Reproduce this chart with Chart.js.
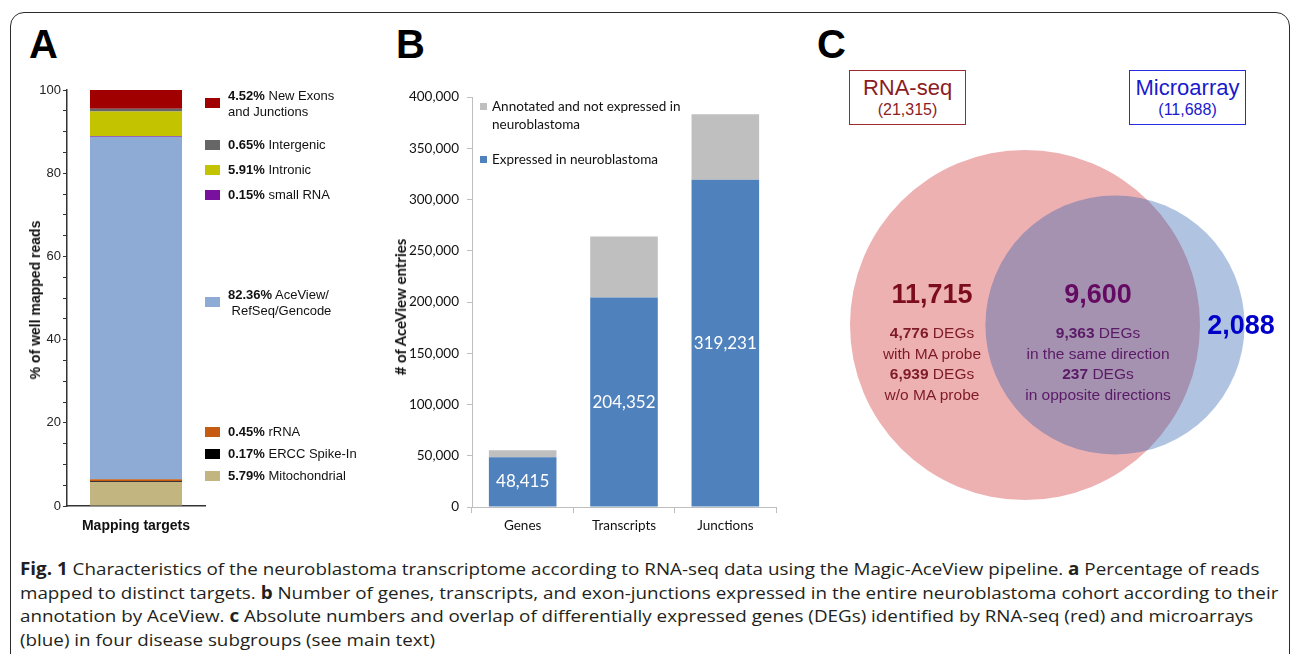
<!DOCTYPE html>
<html>
<head>
<meta charset="utf-8">
<script src="https://cdn.jsdelivr.net/npm/chart.js@4.4.1/dist/chart.umd.min.js"></script>
<style>
  body { margin: 0; width: 1292px; height: 654px; overflow: hidden; background: #fff; position: relative;
         font-family: "Liberation Sans", Arial, sans-serif; }
  .abs { position: absolute; }
  #frame { left: 10px; top: 12px; width: 1280px; height: 720px; border: 1.5px solid #2b2b2b;
           border-radius: 14px; box-sizing: border-box; }
  .panel { font-weight: bold; font-size: 40px; line-height: 40px; color: #000; }
  .lab { position: absolute; transform: translate(-50%, -50%); white-space: nowrap; text-align: center; }
  .box { position: absolute; box-sizing: border-box; text-align: center; }
  #caption { left: 20px; top: 557px; font-family: "Open Sans", sans-serif; font-size: 17px; line-height: 23.5px;
             color: #231f20; white-space: nowrap; transform-origin: 0 0; }
  canvas { position: absolute; }
</style>
</head>
<body>
<div id="frame" class="abs"></div>
<div class="abs panel" style="left:29px;top:24px">A</div>
<div class="abs panel" style="left:396px;top:24px">B</div>
<div class="abs panel" style="left:817px;top:24px">C</div>

<canvas id="chartA" width="400" height="540" style="left:0;top:0"></canvas>
<canvas id="chartB" width="420" height="480" style="left:380px;top:60px"></canvas>
<canvas id="chartC" width="492" height="400" style="left:800px;top:130px"></canvas>

<div id="overlay"></div>

<div id="caption" class="abs">
  <div><b>Fig. 1</b> Characteristics of the neuroblastoma transcriptome according to RNA-seq data using the Magic-AceView pipeline. <b>a</b> Percentage of reads</div>
  <div>mapped to distinct targets. <b>b</b> Number of genes, transcripts, and exon-junctions expressed in the entire neuroblastoma cohort according to their</div>
  <div>annotation by AceView. <b>c</b> Absolute numbers and overlap of differentially expressed genes (DEGs) identified by RNA-seq (red) and microarrays</div>
  <div>(blue) in four disease subgroups (see main text)</div>
</div>

<script>
// Panel A: mapping targets (bottom to top)
const mapTargets = ['Mitochondrial', 'ERCC Spike-In', 'rRNA', 'AceView/| RefSeq/Gencode', 'small RNA', 'Intronic', 'Intergenic', 'New Exons|and Junctions'];
const mapPercent = [5.79, 0.17, 0.45, 82.36, 0.15, 5.91, 0.65, 4.52];
const mapColors = ['#c3b57f', '#000000', '#c55a11', '#8dabd5', '#7a119e', '#c4c300', '#666666', '#a10000'];
const mapLegendY = [476, 454, 432, 295, 195, 170, 145, 96];

// Panel B: AceView entries
const entryTypes = ['Genes', 'Transcripts', 'Junctions'];
const expressed = [48415, 204352, 319231];
const notExpressed = [6900, 59500, 63900];
const bTicks = [0, 50000, 100000, 150000, 200000, 250000, 300000, 350000, 400000];

// Panel C: DEG counts
const rnaSeqTotal = 21315;
const microarrayTotal = 11688;
const overlapTotal = 9600;
const rnaOnlySplit = [4776, 6939];
const overlapSplit = [9363, 237];

const fmt = v => v.toLocaleString('en-US');
const overlay = document.getElementById('overlay');
function addDiv(cls, html, css) {
  const d = document.createElement('div');
  d.className = cls;
  d.innerHTML = html;
  d.style.cssText = css;
  overlay.appendChild(d);
  return d;
}

// axis titles
addDiv('lab', '% of well mapped reads', 'left:35px;top:300px;transform:translate(-50%,-50%) rotate(-90deg);font-weight:bold;font-size:14px;color:#111');
addDiv('lab', '# of AceView entries', 'left:400px;top:307px;transform:translate(-50%,-50%) rotate(-90deg);font-family:Lato;font-weight:bold;font-size:15px;color:#111');

// legend A
mapTargets.forEach((t, i) => {
  const lines = t.split('|');
  const y = mapLegendY[i];
  const sq = lines.length > 1 ? y + 7 : y;
  addDiv('abs', '', `left:205px;top:${sq - 5}px;width:15px;height:10px;background:${mapColors[i]}`);
  const html = '<b>' + mapPercent[i].toFixed(2) + '%</b> ' + lines.join('<br>');
  addDiv('abs', html, `left:228px;top:${y - 8}px;font-size:13px;line-height:15.5px;color:#111;white-space:pre`);
});

// legend B
addDiv('abs', '', 'left:480px;top:103px;width:7px;height:7px;background:#bfbfbf');
addDiv('abs', 'Annotated and not expressed in<br>neuroblastoma', 'left:492px;top:97px;font-family:Lato;font-size:13.5px;line-height:18px;color:#111');
addDiv('abs', '', 'left:480px;top:156px;width:7px;height:7px;background:#4f81bd');
addDiv('abs', 'Expressed in neuroblastoma', 'left:492px;top:150px;font-family:Lato;font-size:13.5px;line-height:18px;color:#111');

// Panel C labels
addDiv('box', '<div style="font-size:22px;line-height:24px;margin-top:5px">RNA-seq</div><div style="font-size:16px;line-height:20px">(' + fmt(rnaSeqTotal) + ')</div>',
  'left:849px;top:70px;width:117px;height:55px;border:1.5px solid #9e2a30;color:#8b1c24');
addDiv('box', '<div style="font-size:22px;line-height:24px;margin-top:5px">Microarray</div><div style="font-size:16px;line-height:20px">(' + fmt(microarrayTotal) + ')</div>',
  'left:1129px;top:70px;width:117px;height:55px;border:1.5px solid #2a2ae0;color:#1a1acc');

const big = 'font-weight:bold;font-size:27px;';
const small = 'font-size:15.5px;line-height:20.5px;';
addDiv('lab', fmt(rnaSeqTotal - overlapTotal), `left:932px;top:294px;${big}color:#7b0d1e`);
addDiv('lab', `<b>${fmt(rnaOnlySplit[0])}</b> DEGs<br>with MA probe<br><b>${fmt(rnaOnlySplit[1])}</b> DEGs<br>w/o MA probe`,
  `left:932px;top:364px;${small}color:#7d1a28`);
addDiv('lab', fmt(overlapTotal), `left:1098px;top:294px;${big}color:#650a62`);
addDiv('lab', `<b>${fmt(overlapSplit[0])}</b> DEGs<br>in the same direction<br><b>${fmt(overlapSplit[1])}</b> DEGs<br>in opposite directions`,
  `left:1098px;top:364px;${small}color:#5a1a66`);
addDiv('lab', fmt(microarrayTotal - overlapTotal), `left:1241px;top:325px;${big}color:#0000c8`);

const barLabels = {
  id: 'barLabels',
  afterDatasetsDraw(chart) {
    const meta = chart.getDatasetMeta(0);
    const ctx = chart.ctx;
    ctx.save();
    ctx.fillStyle = '#fff';
    ctx.font = '17px Lato';
    ctx.textAlign = 'center';
    ctx.textBaseline = 'middle';
    meta.data.forEach((bar, i) => {
      ctx.fillText(fmt(expressed[i]), bar.x, (bar.y + bar.base) / 2);
    });
    ctx.restore();
  }
};

function draw() {
  Chart.defaults.font.family = '"Liberation Sans", Arial, sans-serif';

  // A
  new Chart(document.getElementById('chartA'), {
    type: 'bar',
    data: {
      labels: ['Mapping targets'],
      datasets: mapTargets.map((t, i) => ({
        label: t, data: [mapPercent[i]], backgroundColor: mapColors[i],
        barPercentage: 0.667, categoryPercentage: 1
      }))
    },
    options: {
      responsive: false, animation: false,
      layout: { padding: { left: 27, top: 90, right: 195, bottom: 0 } },
      plugins: { legend: { display: false }, tooltip: { enabled: false } },
      scales: {
        x: {
          stacked: true,
          grid: { display: false },
          border: { color: '#333', width: 1.5 },
          ticks: { color: '#111', font: { size: 14, weight: 'bold' }, padding: 4 },
          afterFit: s => { s.height = 34; }
        },
        y: {
          stacked: true, min: 0, max: 100,
          border: { color: '#333', width: 1.5 },
          grid: { drawOnChartArea: false, color: '#333', tickLength: 4 },
          ticks: { stepSize: 5, autoSkip: false, padding: 2, color: '#222', font: { size: 13 },
                   callback: v => v % 20 === 0 ? v : '' },
          afterFit: s => { s.width = 40; }
        }
      }
    }
  });

  // B
  new Chart(document.getElementById('chartB'), {
    type: 'bar',
    data: {
      labels: entryTypes,
      datasets: [
        { label: 'Expressed in neuroblastoma', data: expressed, backgroundColor: '#4f81bd',
          barPercentage: 0.667, categoryPercentage: 1 },
        { label: 'Annotated and not expressed in neuroblastoma', data: notExpressed, backgroundColor: '#bfbfbf',
          barPercentage: 0.667, categoryPercentage: 1 }
      ]
    },
    options: {
      responsive: false, animation: false,
      layout: { padding: { left: 22, top: 37, right: 24, bottom: 3 } },
      plugins: { legend: { display: false }, tooltip: { enabled: false } },
      scales: {
        x: {
          stacked: true,
          grid: { drawOnChartArea: false, color: '#bfbfbf', tickLength: 6, offset: true },
          border: { color: '#bfbfbf' },
          ticks: { color: '#111', font: { family: 'Lato', size: 13.5 }, padding: 5 },
          afterFit: s => { s.height = 30; }
        },
        y: {
          stacked: true, min: bTicks[0], max: bTicks[bTicks.length - 1],
          grid: { drawOnChartArea: false, color: '#bfbfbf', tickLength: 5 },
          border: { color: '#bfbfbf' },
          ticks: { stepSize: bTicks[1] - bTicks[0], padding: 8, color: '#111',
                   font: { family: 'Lato', size: 13.5 }, callback: v => fmt(v) },
          afterFit: s => { s.width = 70; }
        }
      }
    },
    plugins: [barLabels]
  });

  // C: Venn as bubbles, radius proportional to sqrt of set size
  const k = 175 / Math.sqrt(rnaSeqTotal);
  const vennLayout = { rna: [225, 195], ma: [315, 195] };
  new Chart(document.getElementById('chartC'), {
    type: 'bubble',
    data: {
      datasets: [
        { data: [{ x: vennLayout.rna[0], y: vennLayout.rna[1], r: k * Math.sqrt(rnaSeqTotal) }],
          backgroundColor: 'rgb(238,177,178)', borderWidth: 0, clip: false, order: 2 },
        { data: [{ x: vennLayout.ma[0], y: vennLayout.ma[1], r: k * Math.sqrt(microarrayTotal) }],
          backgroundColor: 'rgba(29,86,172,0.35)', borderWidth: 0, clip: false, order: 1 }
      ]
    },
    options: {
      responsive: false, animation: false,
      layout: { padding: 0, autoPadding: false },
      plugins: { legend: { display: false }, tooltip: { enabled: false } },
      scales: {
        x: { display: false, min: 0, max: 492 },
        y: { display: false, min: 0, max: 400, reverse: true }
      }
    }
  });

  // fit caption width
  const cap = document.getElementById('caption');
  const w = cap.firstElementChild.scrollWidth;
  cap.style.transform = 'scaleX(' + (1258 / w) + ')';
}

Promise.all([
  document.fonts.load('13px Lato'), document.fonts.load('bold 15px Lato'),
  document.fonts.load('17px "Open Sans"'), document.fonts.load('bold 17px "Open Sans"'),
  document.fonts.load('13px "Liberation Sans"'), document.fonts.load('bold 13px "Liberation Sans"')
]).then(draw, draw);
</script>
</body>
</html>
